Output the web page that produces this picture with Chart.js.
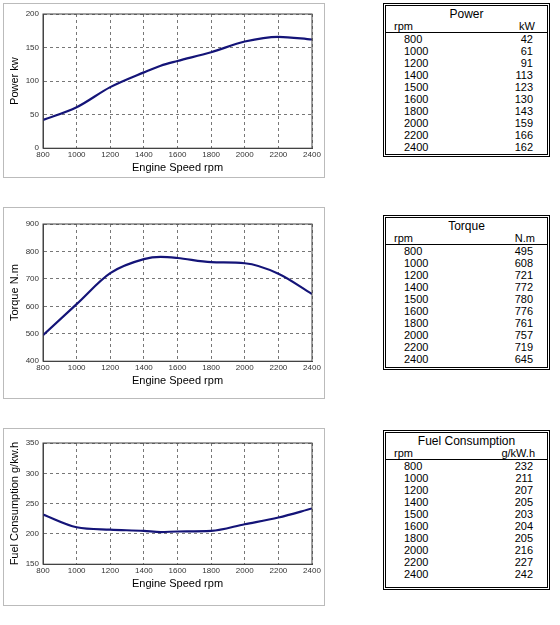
<!DOCTYPE html>
<html>
<head>
<meta charset="utf-8">
<script src="https://cdn.jsdelivr.net/npm/chart.js@4"></script>
<style>
  body { margin: 0; background: #fff; font-family: Arial, "Liberation Sans", sans-serif; }
  .box { position: absolute; border: 1px solid #bbb; box-sizing: border-box; }
  .box canvas { display: block; }
  .tbl { position: absolute; left: 383px; width: 167px; border: 3px double #000; box-sizing: border-box; font-size: 11px; }
  .tbl .title { text-align: center; font-size: 12px; line-height: 13px; padding-top: 2px; }
  .tbl .head { display: flex; justify-content: space-between; padding: 0 12px 0 8px; border-bottom: 1px solid #000; line-height: 11px; }
  .tbl .row { display: flex; justify-content: space-between; padding: 0 14px 0 18px; line-height: 12px; }
</style>
</head>
<body>

<div class="box" style="left:3px;top:3px;width:322px;height:175px;"><canvas id="powerChart"></canvas></div>
<div class="box" style="left:3px;top:207px;width:322px;height:192px;"><canvas id="torqueChart"></canvas></div>
<div class="box" style="left:3px;top:428px;width:322px;height:178px;"><canvas id="fuelChart"></canvas></div>

<div class="tbl" id="powerTable" style="top:3px;height:154px;"></div>
<div class="tbl" id="torqueTable" style="top:215px;height:155px;"></div>
<div class="tbl" id="fuelTable" style="top:430px;height:160px;"></div>

<script>

// DATA

const rpm = [800, 1000, 1200, 1400, 1500, 1600, 1800, 2000, 2200, 2400];

const power = [42, 61, 91, 113, 123, 130, 143, 159, 166, 162];

const torque = [495, 608, 721, 772, 780, 776, 761, 757, 719, 645];

const fuel = [232, 211, 207, 205, 203, 204, 205, 216, 227, 242];



// TABLES

function fillTable(id, title, unit, values) {

  let html =
    `<div class="title">${title}</div>
     <div class="head"><span>rpm</span><span>${unit}</span></div>`;

  rpm.forEach((r, i) => {
    html += `<div class="row"><span>${r}</span><span>${values[i]}</span></div>`;
  });

  document.getElementById(id).innerHTML = html;

}

fillTable("powerTable", "Power", "kW", power);
fillTable("torqueTable", "Torque", "N.m", torque);
fillTable("fuelTable", "Fuel Consumption", "g/kW.h", fuel);



// CHARTS

Chart.defaults.font.family = "Arial, 'Liberation Sans', sans-serif";

function makeChart(id, values, yLabel, yMin, yMax, yStep, pad) {

  return new Chart(document.getElementById(id), {

    type: "line",

    data: {
      datasets: [{
        data: rpm.map((r, i) => ({ x: r, y: values[i] })),
        borderColor: "#141478",
        borderWidth: 2.2,
        pointRadius: 0,
        cubicInterpolationMode: "monotone"
      }]
    },

    options: {
      responsive: true,
      maintainAspectRatio: false,
      animation: false,
      layout: { padding: pad },
      plugins: { legend: { display: false }, tooltip: { enabled: false } },
      scales: {
        x: {
          type: "linear", min: 800, max: 2400,
          ticks: { stepSize: 200, color: "#333", font: { size: 8 }, padding: 2, callback: v => String(v) },
          grid: { color: "#777", tickLength: 0 },
          border: { display: true, color: "#444", dash: [3, 3] },
          title: { display: true, text: "Engine Speed rpm", color: "#000", font: { size: 11 }, padding: 0 }
        },
        y: {
          min: yMin, max: yMax,
          ticks: { stepSize: yStep, color: "#333", font: { size: 8 }, padding: 4, callback: v => String(v) },
          grid: { color: "#777", tickLength: 0 },
          border: { display: true, color: "#444", dash: [3, 3] },
          title: { display: true, text: yLabel, color: "#000", font: { size: 11 }, padding: 0 },
          afterFit: axis => { axis.width = 35; }
        }
      }
    },

    plugins: [{
      id: "frame",
      afterDraw(chart) {
        const a = chart.chartArea, c = chart.ctx;
        c.save();
        c.strokeStyle = "#444";
        c.lineWidth = 1;
        c.strokeRect(a.left, a.top, a.right - a.left, a.bottom - a.top);
        c.restore();
      }
    }]

  });

}

makeChart("powerChart", power, "Power kw", 0, 200, 50, { left: 4, right: 12, top: 10, bottom: 2 });
makeChart("torqueChart", torque, "Torque N.m", 400, 900, 100, { left: 4, right: 12, top: 16, bottom: 10 });
makeChart("fuelChart", fuel, "Fuel Consumption g/kw.h", 150, 350, 50, { left: 4, right: 12, top: 14, bottom: 14 });

</script>
</body>
</html>
